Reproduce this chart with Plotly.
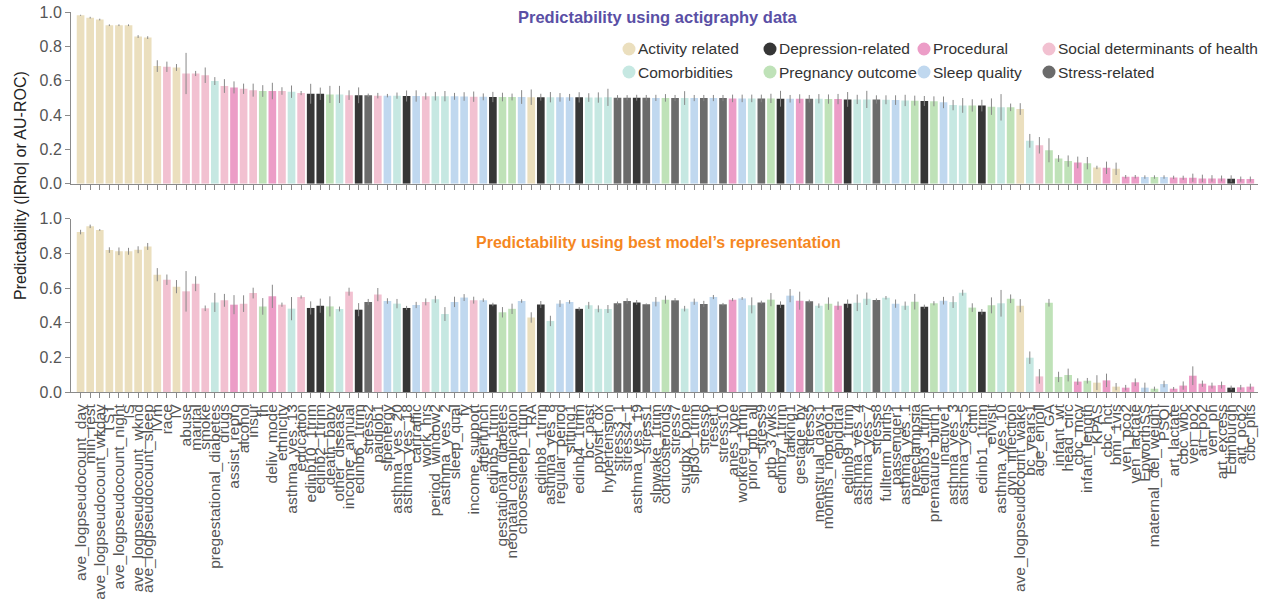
import plotly.graph_objects as go
from plotly.subplots import make_subplots

# Feature names (x-axis), sorted by actigraphy predictability
features = [
    "ave_logpseudocount_day", "min_rest", "ave_logpseudocount_wkday", "TST",
    "ave_logpseudocount_night", "IS", "ave_logpseudocount_wknd", "ave_logpseudocount_sleep",
    "IVm", "race", "IV", "abuse", "marital", "smoke", "pregestational_diabetes", "drugs",
    "assist_repro", "alcohol", "insur", "fh", "deliv_mode", "ethnicity", "asthma_yes_13",
    "education", "edinb10_1trim", "edinb2_1trim", "death_baby", "other_disease",
    "income_annual", "edinb6_1trim", "stress2", "paidjob1", "slpenergy", "asthma_yes_20",
    "asthma_yes_18", "cartraffic", "work_hrs", "period_window2", "asthma_yes_2", "sleep_qual",
    "fy", "income_support", "afterlunch", "edinb5_1trim", "gestational_diabetes",
    "neonatal_complication", "choosesleep_1trim", "RA", "edinb8_1trim", "asthma_yes_8",
    "regular_period", "sitting1", "edinb4_1trim", "bc_past", "ppvisit_dx", "hypertension",
    "stress3_1", "stress4_1", "asthma_yes_19", "stress1", "slpwake_1trim", "corticosteroids",
    "stress7", "surgbx_bone", "slp30_1trim", "stress6", "reset1", "stress10", "anes_type",
    "workreg_1trim", "prior_ptb_all", "stress9", "ptb_37wks", "edinb7_1trim", "talking1",
    "gestage_by", "stress5", "menstrual_days1", "months_noprego1", "epidural", "edinb9_1trim",
    "asthma_yes_4", "asthma_yes_7", "stress8", "fullterm_births", "passenger1", "asthma_yes_1",
    "preeclampsia", "edinb3_1trim", "premature_birth1", "inactive1", "asthma_yes_3",
    "asthma_yes_5", "chtn", "edinb1_1trim", "ervisit", "asthma_yes_10", "gyn_infection",
    "ave_logpseudocount_wake", "bc_years1", "age_enroll", "GA", "infant_wt", "head_circ",
    "cbc_mcv", "infant_length", "KPAS", "cbc_hct", "bmi_1vis", "ven_pco2", "ven_lactate",
    "EpworthSS", "maternal_del_weight", "PSQI", "art_lactate", "cbc_wbc", "ven_po2",
    "art_po2", "ven_ph", "art_excess", "Edinburgh", "art_pco2", "cbc_plts",
]

# Group code of each feature
groups = [
    "A", "A", "A", "A", "A", "A", "A", "A", "A", "S", "A", "S", "S", "S", "C", "S",
    "P", "S", "S", "O", "P", "S", "C", "S", "D", "D", "O", "C", "S", "D", "T", "S",
    "Q", "C", "D", "Q", "S", "C", "C", "Q", "Q", "S", "Q", "D", "O", "O", "Q", "A",
    "D", "C", "Q", "Q", "D", "C", "C", "C", "T", "T", "D", "T", "Q", "O", "T", "C",
    "Q", "T", "Q", "T", "P", "Q", "C", "T", "O", "D", "Q", "P", "T", "C", "O", "P",
    "D", "C", "C", "T", "C", "Q", "C", "O", "D", "O", "Q", "C", "C", "O", "D", "O",
    "C", "O", "A", "C", "S", "O", "O", "O", "P", "O", "A", "P", "A", "P", "P", "Q",
    "O", "Q", "P", "P", "P", "P", "P", "P", "D", "P", "P",
]

group_names = {
    "A": "Activity related", "D": "Depression-related", "P": "Procedural",
    "S": "Social determinants of health", "C": "Comorbidities", "O": "Pregnancy outcome",
    "Q": "Sleep quality", "T": "Stress-related",
}
group_colors = {
    "A": "#ebdfbe", "D": "#363636", "P": "#ec9dc7", "S": "#f2c1d1",
    "C": "#c6e8e2", "O": "#bfe2b8", "Q": "#c0d8ef", "T": "#6b6b6b",
}

# Predictability using actigraphy data
actigraphy = [
    0.981, 0.967, 0.956, 0.923, 0.923, 0.923, 0.857, 0.851, 0.685, 0.681, 0.677, 0.642,
    0.642, 0.632, 0.598, 0.569, 0.561, 0.553, 0.545, 0.540, 0.540, 0.540, 0.536, 0.528,
    0.524, 0.524, 0.520, 0.520, 0.516, 0.515, 0.515, 0.513, 0.513, 0.513, 0.511, 0.511,
    0.510, 0.510, 0.510, 0.509, 0.508, 0.507, 0.506, 0.505, 0.505, 0.505, 0.505, 0.504,
    0.504, 0.504, 0.503, 0.503, 0.503, 0.502, 0.502, 0.503, 0.501, 0.501, 0.501, 0.501,
    0.500, 0.500, 0.499, 0.499, 0.499, 0.499, 0.499, 0.499, 0.497, 0.497, 0.497, 0.497,
    0.497, 0.495, 0.495, 0.495, 0.495, 0.495, 0.493, 0.493, 0.491, 0.491, 0.491, 0.491,
    0.489, 0.487, 0.485, 0.484, 0.482, 0.480, 0.474, 0.458, 0.456, 0.456, 0.455, 0.449,
    0.445, 0.445, 0.435, 0.250, 0.224, 0.195, 0.147, 0.132, 0.124, 0.120, 0.095, 0.093,
    0.087, 0.041, 0.041, 0.039, 0.039, 0.039, 0.037, 0.035, 0.035, 0.031, 0.031, 0.031,
    0.029, 0.027, 0.027,
]
actigraphy_err = [
    0.003, 0.005, 0.005, 0.005, 0.005, 0.005, 0.008, 0.008, 0.034, 0.030, 0.020, 0.120,
    0.015, 0.045, 0.023, 0.040, 0.035, 0.030, 0.038, 0.034, 0.048, 0.022, 0.036, 0.012,
    0.058, 0.036, 0.050, 0.050, 0.028, 0.046, 0.010, 0.016, 0.010, 0.018, 0.032, 0.033,
    0.020, 0.025, 0.030, 0.020, 0.025, 0.030, 0.020, 0.030, 0.025, 0.020, 0.040, 0.045,
    0.020, 0.030, 0.025, 0.020, 0.030, 0.025, 0.030, 0.050, 0.015, 0.015, 0.017, 0.016,
    0.018, 0.022, 0.018, 0.040, 0.018, 0.018, 0.018, 0.018, 0.022, 0.022, 0.022, 0.022,
    0.027, 0.046, 0.022, 0.026, 0.022, 0.027, 0.027, 0.030, 0.043, 0.027, 0.050, 0.024,
    0.026, 0.028, 0.033, 0.029, 0.029, 0.029, 0.034, 0.030, 0.043, 0.036, 0.034, 0.048,
    0.077, 0.022, 0.034, 0.040, 0.048, 0.070, 0.020, 0.033, 0.034, 0.036, 0.010, 0.036,
    0.036, 0.010, 0.010, 0.010, 0.010, 0.010, 0.010, 0.012, 0.024, 0.022, 0.019, 0.017,
    0.020, 0.015, 0.015,
]

# Predictability using the best model's representation
model_rep = [
    0.923, 0.956, 0.935, 0.819, 0.812, 0.812, 0.821, 0.840, 0.677, 0.648, 0.608, 0.581,
    0.625, 0.483, 0.517, 0.529, 0.504, 0.510, 0.571, 0.494, 0.552, 0.504, 0.481, 0.548,
    0.485, 0.498, 0.494, 0.479, 0.579, 0.475, 0.519, 0.562, 0.525, 0.510, 0.485, 0.502,
    0.520, 0.535, 0.450, 0.520, 0.545, 0.530, 0.530, 0.505, 0.460, 0.480, 0.525, 0.430,
    0.505, 0.410, 0.510, 0.520, 0.480, 0.500, 0.480, 0.479, 0.512, 0.525, 0.517, 0.506,
    0.521, 0.533, 0.529, 0.481, 0.521, 0.508, 0.548, 0.506, 0.533, 0.540, 0.500, 0.517,
    0.533, 0.504, 0.556, 0.527, 0.523, 0.498, 0.510, 0.498, 0.510, 0.515, 0.538, 0.531,
    0.544, 0.510, 0.498, 0.521, 0.492, 0.512, 0.527, 0.519, 0.573, 0.487, 0.463, 0.500,
    0.512, 0.538, 0.498, 0.198, 0.090, 0.515, 0.087, 0.098, 0.060, 0.065, 0.054, 0.067,
    0.031, 0.025, 0.056, 0.025, 0.019, 0.046, 0.019, 0.037, 0.094, 0.048, 0.037, 0.040,
    0.025, 0.027, 0.031,
]
model_rep_err = [
    0.013, 0.010, 0.005, 0.016, 0.022, 0.020, 0.020, 0.020, 0.038, 0.030, 0.038, 0.117,
    0.043, 0.016, 0.055, 0.037, 0.055, 0.048, 0.031, 0.048, 0.067, 0.012, 0.067, 0.009,
    0.038, 0.041, 0.058, 0.014, 0.023, 0.038, 0.018, 0.038, 0.016, 0.027, 0.012, 0.018,
    0.020, 0.020, 0.040, 0.030, 0.020, 0.020, 0.010, 0.010, 0.030, 0.030, 0.010, 0.030,
    0.020, 0.030, 0.020, 0.010, 0.010, 0.020, 0.020, 0.023, 0.010, 0.016, 0.014, 0.005,
    0.027, 0.023, 0.013, 0.016, 0.018, 0.018, 0.012, 0.008, 0.009, 0.008, 0.046, 0.010,
    0.038, 0.019, 0.038, 0.052, 0.010, 0.013, 0.036, 0.024, 0.024, 0.048, 0.036, 0.009,
    0.010, 0.024, 0.024, 0.045, 0.012, 0.012, 0.022, 0.034, 0.017, 0.025, 0.016, 0.046,
    0.077, 0.025, 0.038, 0.036, 0.042, 0.022, 0.030, 0.037, 0.019, 0.016, 0.043, 0.039,
    0.021, 0.016, 0.022, 0.029, 0.012, 0.019, 0.010, 0.024, 0.054, 0.018, 0.017, 0.020,
    0.012, 0.014, 0.017,
]

FONT = "Liberation Sans, Arial, sans-serif"
TICK_COLOR = "#555555"
AXIS_COLOR = "#8a8a8a"
W, H = 1267, 599
X0, X1 = 71, 1258          # plot area, horizontal pixels
Y0, Y1 = 12, 392           # plot area, vertical pixels


def px_x(px):
    return (px - X0) / (X1 - X0)


def px_y(py):
    return (Y1 - py) / (Y1 - Y0)


bar_colors = [group_colors[g] for g in groups]

fig = make_subplots(rows=2, cols=1, shared_xaxes=False, vertical_spacing=0.09)

for row, vals, errs in [(1, actigraphy, actigraphy_err), (2, model_rep, model_rep_err)]:
    fig.add_trace(
        go.Bar(
            x=features, y=vals,
            marker=dict(color=bar_colors, line=dict(width=0)),
            error_y=dict(type="data", array=errs, color="#888888", thickness=1, width=0),
            showlegend=False,
        ),
        row=row, col=1,
    )

xaxis_common = dict(
    type="category", range=[-1, 122.8], showgrid=False, zeroline=False,
    showline=True, linecolor=AXIS_COLOR, linewidth=1,
    ticks="outside", ticklen=5, tickcolor=AXIS_COLOR, tickwidth=1,
    tickmode="array", tickvals=features, ticktext=features,
)
yaxis_common = dict(
    range=[0, 1.0], tickvals=[0, 0.2, 0.4, 0.6, 0.8, 1.0],
    ticktext=["0.0", "0.2", "0.4", "0.6", "0.8", "1.0"],
    showgrid=False, zeroline=False, showline=True, linecolor=AXIS_COLOR, linewidth=1,
    ticks="outside", ticklen=5, tickcolor=AXIS_COLOR,
    tickfont=dict(family=FONT, size=16, color=TICK_COLOR),
)

fig.update_layout(
    width=W, height=H,
    margin=dict(l=X0, r=W - X1, t=Y0, b=H - Y1, autoexpand=False),
    plot_bgcolor="white", paper_bgcolor="white",
    bargap=0.2, showlegend=False,
    font=dict(family=FONT, color=TICK_COLOR),
    xaxis=dict(xaxis_common, domain=[0, 1], showticklabels=False),
    xaxis2=dict(xaxis_common, domain=[0, 1], tickangle=-90,
                tickfont=dict(family=FONT, size=15.5, color=TICK_COLOR)),
    yaxis=dict(yaxis_common, domain=[0.548, 1.0]),
    yaxis2=dict(yaxis_common, domain=[0.0, 0.456]),
)

# Group key: four columns, two rows (circle swatch + label)
legend_cols = [("A", "C"), ("D", "O"), ("P", "Q"), ("S", "T")]
legend_dot_px = [629, 770, 924, 1049]
legend_row_px = [49, 72]
DOT_R = 6.5
for dot_px, codes in zip(legend_dot_px, legend_cols):
    for row_px, code in zip(legend_row_px, codes):
        fig.add_shape(
            type="circle", xref="paper", yref="paper",
            xsizemode="pixel", ysizemode="pixel",
            xanchor=px_x(dot_px), yanchor=px_y(row_px),
            x0=-DOT_R, x1=DOT_R, y0=-DOT_R, y1=DOT_R,
            fillcolor=group_colors[code], line=dict(width=0),
        )
        fig.add_annotation(
            text=group_names[code],
            xref="paper", yref="paper", x=px_x(dot_px + 8), y=px_y(row_px),
            xanchor="left", yanchor="middle", showarrow=False, borderpad=0,
            font=dict(family=FONT, size=15.5, color="#333333"),
        )

title_x = px_x(658)
fig.add_annotation(
    text="<b>Predictability using actigraphy data</b>", xref="paper", yref="paper",
    x=title_x, y=px_y(17), xanchor="center", yanchor="middle", showarrow=False,
    font=dict(family=FONT, size=16.5, color="#5a4fa5"),
)
fig.add_annotation(
    text="<b>Predictability using best model\u2019s representation</b>", xref="paper", yref="paper",
    x=title_x, y=px_y(242), xanchor="center", yanchor="middle", showarrow=False,
    font=dict(family=FONT, size=16, color="#f5871f"),
)
fig.add_annotation(
    text="Predictability (|Rho| or AU-ROC)", xref="paper", yref="paper",
    x=px_x(20), y=px_y(186), xanchor="center", yanchor="middle",
    textangle=-90, showarrow=False,
    font=dict(family=FONT, size=16, color="#222222"),
)

fig.write_html("out.html")
